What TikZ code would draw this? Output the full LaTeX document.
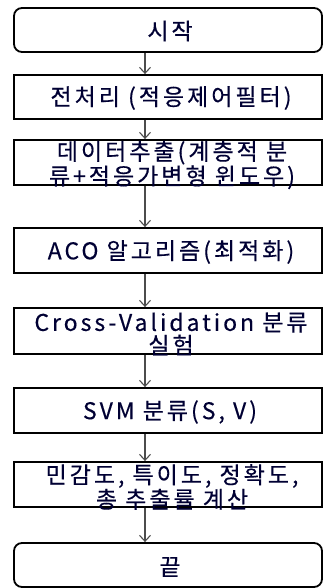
\documentclass[tikz,border=0pt]{standalone}
\usepackage{fontspec}
\setmainfont{Noto Sans CJK KR}[LetterSpace=13,FakeBold=0.4]
\usetikzlibrary{arrows.meta}
\begin{document}
\begin{tikzpicture}[x=1pt,y=-1pt,
  box/.style={draw=black,line width=1.8pt,minimum width=308pt,inner sep=0pt,anchor=center},
  rbox/.style={box,rounded corners=8pt},
  txt/.style={inner sep=0pt,align=center,font=\fontsize{23pt}{23pt}\selectfont,text=black!80!blue},
  arr/.style={draw=black!70,line width=1.2pt,-{Straight Barb[length=6pt,width=11pt,line width=1.1pt]}}]
\useasboundingbox (0,0) rectangle (323,588);
\node[rbox,minimum height=44pt] (s) at (168,30) {};
\node[box,minimum height=44pt] (b2) at (168,97) {};
\node[box,minimum height=45pt] (b3) at (168,162.5) {};
\node[box,minimum height=45pt] (b4) at (168,250.5) {};
\node[box,minimum height=46pt] (b5) at (168,331) {};
\node[box,minimum height=45pt] (b6) at (168,410.5) {};
\node[box,minimum height=45pt] (b7) at (168,484.5) {};
\node[rbox,minimum height=44pt] (e) at (168,565) {};
\node[txt] (ts) at (170,31) {시작};
\node[txt] (t2) at (171,98) {전처리 (적응제어필터)};
\node[txt] (t3) at (172,165) {데이터추출(계층적 분\\류+적응가변형 윈도우)};
\node[txt] (t4) at (171,252) {ACO 알고리즘(최적화)};
\node[txt] (t5) at (171,334) {Cross-Validation 분류\\실험};
\node[txt] (t6) at (170,412) {SVM 분류(S, V)};
\node[txt] (t7) at (172,487) {민감도, 특이도, 정확도,\\총 추출률 계산};
\node[txt] (te) at (170,567) {끝};
\coordinate (ax) at (145,0);
\draw[arr] (s.south -| ax) -- (b2.north -| ax);
\draw[arr] (b2.south -| ax) -- (b3.north -| ax);
\draw[arr] (b3.south -| ax) -- (b4.north -| ax);
\draw[arr] (b4.south -| ax) -- (b5.north -| ax);
\draw[arr] (b5.south -| ax) -- (b6.north -| ax);
\draw[arr] (b6.south -| ax) -- (b7.north -| ax);
\draw[arr] (b7.south -| ax) -- (e.north -| ax);
\end{tikzpicture}
\end{document}
